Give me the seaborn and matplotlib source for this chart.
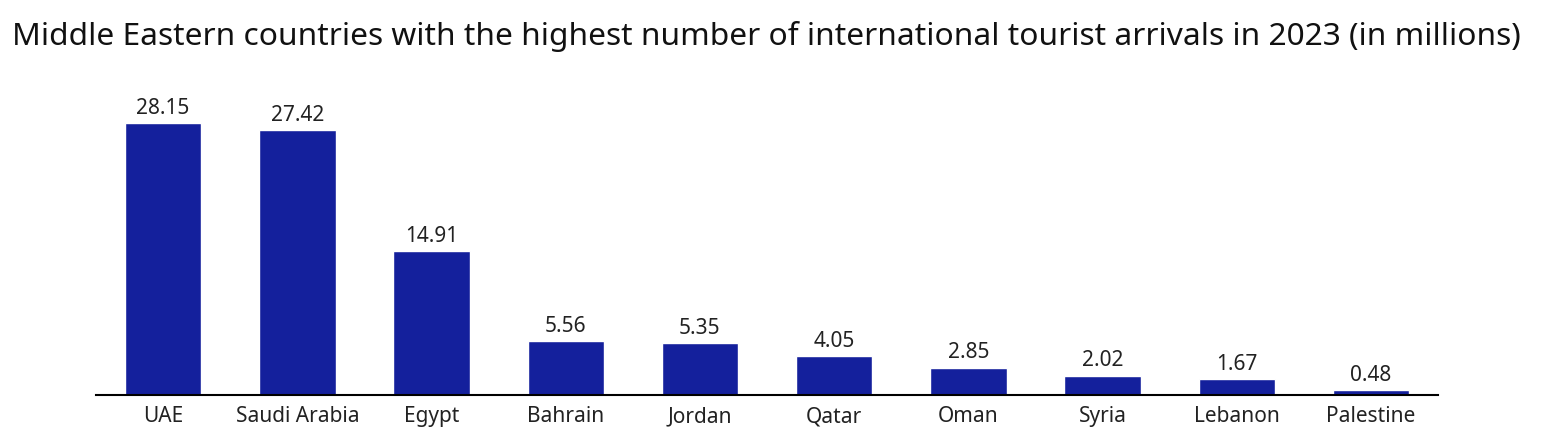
import matplotlib
matplotlib.use("Agg")
import matplotlib.pyplot as plt
import seaborn as sns
import pandas as pd

# Data
countries = ['UAE', 'Saudi Arabia', 'Egypt', 'Bahrain', 'Jordan',
             'Qatar', 'Oman', 'Syria', 'Lebanon', 'Palestine']
arrivals = [28.15, 27.42, 14.91, 5.56, 5.35, 4.05, 2.85, 2.02, 1.67, 0.48]

df = pd.DataFrame({'country': countries, 'arrivals': arrivals})

sns.set_style("white")
plt.rcParams['font.family'] = ['Noto Sans', 'DejaVu Sans']

fig = plt.figure(figsize=(15.42, 4.47), dpi=100)
ax = fig.add_axes([0.0623, 0.1163, 0.8703, 0.6867])

sns.barplot(data=df, x='country', y='arrivals', color='#14209c',
            saturation=1, width=0.57, ax=ax)

# Value labels above bars
for i, v in enumerate(arrivals):
    ax.text(i, v + 0.45, f"{v:.2f}", ha='center', va='bottom',
            fontsize=15, color='#222222')

ax.set_xlim(-0.5, 9.5)
ax.set_ylim(0, 31.8)
ax.set_xlabel("")
ax.set_ylabel("")
ax.set_yticks([])
for side in ['top', 'right', 'left']:
    ax.spines[side].set_visible(False)
ax.spines['bottom'].set_color('black')
ax.spines['bottom'].set_linewidth(1.5)
ax.tick_params(axis='x', length=0, labelsize=15, colors='#222222', pad=8)

fig.text(12 / 1542, 1 - 36 / 447,
         "Middle Eastern countries with the highest number of international tourist arrivals in 2023 (in millions)",
         fontsize=22.8, ha='left', va='center', color='#111111')

fig.savefig("out.png", dpi=100)
